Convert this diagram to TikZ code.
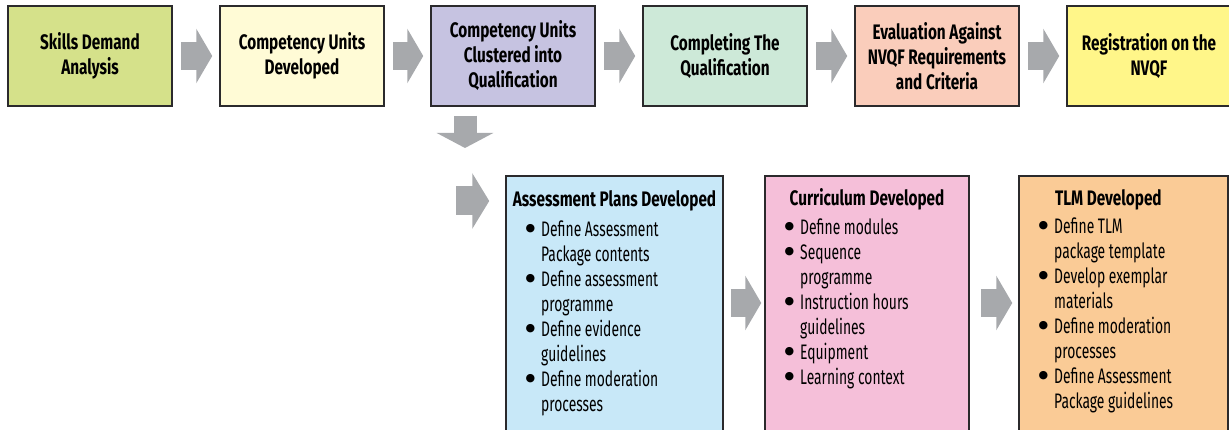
\documentclass[tikz,border=0pt]{standalone}
\usepackage{fontspec}
\setmainfont{Fira Sans}[FakeStretch=0.66, BoldFeatures={FakeStretch=0.73}]
\newfontfamily\bulletFont{DejaVu Sans}
\usetikzlibrary{arrows.meta}
\definecolor{boxLine}{HTML}{2B2A2C}
\definecolor{arrowGray}{HTML}{A7A9AC}
\definecolor{fillA}{HTML}{D5E18A}
\definecolor{fillB}{HTML}{FFFBD6}
\definecolor{fillC}{HTML}{C6C3E1}
\definecolor{fillD}{HTML}{CDE9D8}
\definecolor{fillE}{HTML}{FACDBB}
\definecolor{fillF}{HTML}{FFF689}
\definecolor{fillG}{HTML}{C8E8F8}
\definecolor{fillH}{HTML}{F5BFD9}
\definecolor{fillI}{HTML}{FACB96}
\newcommand{\bodyFont}{\fontsize{21}{25}\selectfont}
\newcommand{\itemDot}{\llap{\raisebox{5pt}{\bulletFont\fontsize{11}{11}\selectfont ●}\hspace{6pt}}}

\begin{document}
\begin{tikzpicture}[x=1pt, y=-1pt,
    boxStyle/.style={draw=boxLine, line width=1.5pt, inner sep=0pt},
    topBox/.style={boxStyle, minimum width=164pt, minimum height=100pt, align=center, font=\bfseries\bodyFont},
    lowBox/.style={boxStyle, minimum height=264pt},
    titleStyle/.style={inner sep=0pt, font=\bfseries\bodyFont},
    listStyle/.style={inner sep=0pt, anchor=base west, font=\bodyFont},
    arrowStyle/.style={draw=arrowGray, line width=28pt, -{Triangle[length=16pt, width=54pt]}, shorten <=8pt, shorten >=7pt}]
    \useasboundingbox (0,0) rectangle (1229,430);
    \clip (0,0) rectangle (1229,430);

    \node[topBox, fill=fillA](s1) at (90, 56) {Skills Demand\\Analysis};
    \node[topBox, fill=fillB](s2) at (302, 56) {Competency Units\\Developed};
    \node[topBox, fill=fillC](s3) at (513, 56) {Competency Units\\Clustered into\\Qualification};
    \node[topBox, fill=fillD](s4) at (725, 56) {Completing The\\Qualification};
    \node[topBox, fill=fillE](s5) at (937, 56) {Evaluation Against\\NVQF Requirements\\and Criteria};
    \node[topBox, fill=fillF](s6) at (1149, 56) {Registration on the\\NVQF};

    \node[lowBox, fill=fillG, minimum width=217pt](b1) at (614.5, 308) {};
    \node[lowBox, fill=fillH, minimum width=204pt](b2) at (867, 308) {};
    \node[lowBox, fill=fillI, minimum width=209pt](b3) at (1123.5, 308) {};

    \node[titleStyle, anchor=base](t1) at (614.5, 207) {Assessment Plans Developed};
    \node[titleStyle, anchor=base](t2) at (867, 206) {Curriculum Developed};
    \node[titleStyle, anchor=base west](t3) at (1055, 206) {TLM Developed};

    \node[listStyle](l1) at (541, 237) {\begin{tabular}[t]{@{}l@{}}
        \itemDot Define Assessment\\ Package contents\\
        \itemDot Define assessment\\ programme\\
        \itemDot Define evidence\\ guidelines\\
        \itemDot Define moderation\\ processes
        \end{tabular}};
    \node[listStyle](l2) at (800, 235) {\begin{tabular}[t]{@{}l@{}}
        \itemDot Define modules\\
        \itemDot Sequence\\ programme\\
        \itemDot Instruction hours\\ guidelines\\
        \itemDot Equipment\\
        \itemDot Learning context
        \end{tabular}};
    \node[listStyle](l3) at (1054, 234) {\begin{tabular}[t]{@{}l@{}}
        \itemDot Define TLM\\ package template\\
        \itemDot Develop exemplar\\ materials\\
        \itemDot Define moderation\\ processes\\
        \itemDot Define Assessment\\ Package guidelines
        \end{tabular}};

    \coordinate (downTip) at (465, 148);
    \coordinate (inTail) at (456, 201);

    \draw[arrowStyle] (s1) -- (s2);
    \draw[arrowStyle] (s2) -- (s3);
    \draw[arrowStyle] (s3) -- (s4);
    \draw[arrowStyle] (s4) -- (s5);
    \draw[arrowStyle] (s5) -- (s6);
    \draw[arrowStyle, line width=23pt, -{Triangle[length=15pt, width=56pt]}, shorten <=9pt, shorten >=0pt] (s3.south -| downTip) -- (downTip);
    \draw[arrowStyle, line width=29pt, -{Triangle[length=17pt, width=55pt]}, shorten <=0pt, shorten >=16pt] (inTail) -- (inTail -| b1.west);
    \draw[arrowStyle, shorten <=7pt, shorten >=3pt] ([yshift=5pt]b1.east) -- ([yshift=5pt]b2.west);
    \draw[arrowStyle, shorten <=11pt, shorten >=6pt] ([yshift=5pt]b2.east) -- ([yshift=5pt]b3.west);
\end{tikzpicture}
\end{document}
